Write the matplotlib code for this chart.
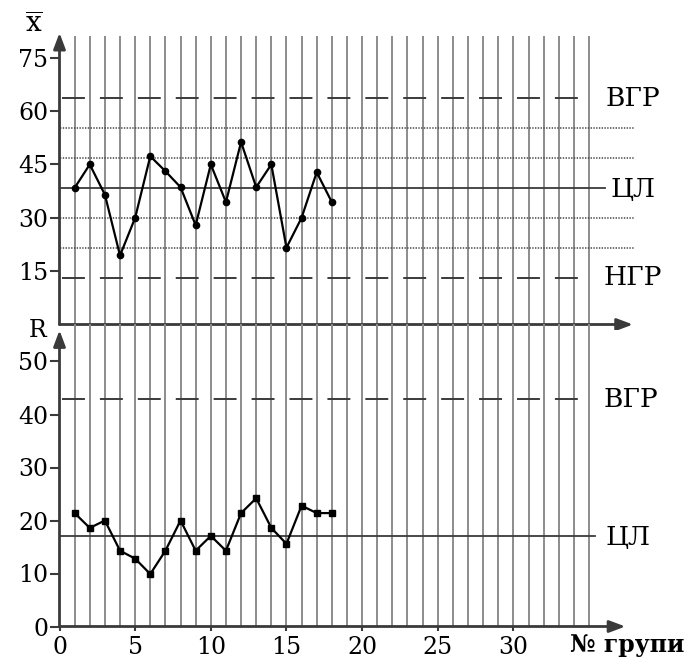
import matplotlib
matplotlib.use("Agg")
import matplotlib.pyplot as plt

# x-bar chart (group means)
groups = list(range(1, 19))
xbar_values = [38.4, 45.0, 36.5, 19.4, 30.0, 47.3, 43.1, 38.6, 27.9,
               45.0, 34.4, 51.3, 38.6, 45.0, 21.6, 30.0, 42.8, 34.4]
xbar_cl = 38.4
xbar_ucl = 63.6
xbar_lcl = 13.2
xbar_zones = [55.2, 46.8, 30.0, 21.6]
xbar_ticks = [15, 30, 45, 60, 75]

# R chart (ranges)
r_values = [21.4, 18.6, 20.0, 14.3, 12.8, 9.9, 14.3, 20.0, 14.3,
            17.1, 14.3, 21.4, 24.2, 18.6, 15.6, 22.8, 21.4, 21.4]
r_cl = 17.1
r_ucl = 42.9
r_ticks = [0, 10, 20, 30, 40, 50]

x_ticks = [0, 5, 10, 15, 20, 25, 30]
grid_x = list(range(1, 36))

plt.rcParams['font.family'] = 'DejaVu Serif'
plt.rcParams['mathtext.fontset'] = 'dejavuserif'
plt.rcParams['lines.scale_dashes'] = False

FIG_W, FIG_H = 688, 666
X0_PX = 59.5
PX_PER_X = 15.13
XMAX = 38.5

fig = plt.figure(figsize=(FIG_W / 100, FIG_H / 100), dpi=100)
left = X0_PX / FIG_W
width = XMAX * PX_PER_X / FIG_W
ax_top = fig.add_axes([left, (FIG_H - 324.5) / FIG_H, width, 82 * 3.557 / FIG_H])
ax_bot = fig.add_axes([left, (FIG_H - 626.5) / FIG_H, width, 56 * 5.3 / FIG_H])

GRID_C = '#8c8c8c'
AXIS_C = '#3a3a3a'
DASH = (0, (16.5, 10.8))
DOT = (0, (1, 1))
TICK_FS = 17
LABEL_FS = 19


def axis_arrow(ax, start, end, lw=2.0):
    ax.annotate('', xy=end, xytext=start, xycoords='data',
                arrowprops=dict(arrowstyle='-|>,head_length=0.8,head_width=0.3',
                                color=AXIS_C, lw=lw, shrinkA=0, shrinkB=0,
                                mutation_scale=12),
                annotation_clip=False, zorder=5)


for ax, ytop in [(ax_top, 81.1), (ax_bot, 57.0)]:
    ax.set_xlim(0, XMAX)
    for s in ax.spines.values():
        s.set_visible(False)
    ax.vlines(grid_x, 0, ytop, color=GRID_C, lw=1.4, zorder=1, clip_on=False)

# ---- top: x-bar chart ----
ax_top.set_ylim(0, 82)
ax_top.set_yticks(xbar_ticks)
ax_top.tick_params(axis='x', bottom=False, labelbottom=False)
ax_top.tick_params(axis='y', direction='out', length=7, width=1.5, color=AXIS_C,
                   pad=1, labelsize=TICK_FS)

for yv in [xbar_ucl, xbar_lcl]:
    ax_top.plot([0.15, 34.6], [yv, yv], color=AXIS_C, lw=1.4, linestyle=DASH, zorder=2)
for yv in xbar_zones:
    ax_top.plot([0, 38.0], [yv, yv], color='#444444', lw=1.1, linestyle=DOT,
                zorder=2, clip_on=False)
ax_top.plot([0, 36.05], [xbar_cl, xbar_cl], color=AXIS_C, lw=1.3, zorder=2)

ax_top.plot(groups, xbar_values, color='black', lw=1.6, marker='o',
            markersize=4.5, zorder=4)

axis_arrow(ax_top, (0, 0), (0, 82))
axis_arrow(ax_top, (0, 0), (37.9, 0))

ax_top.text(37.9, xbar_ucl, 'ВГР', fontsize=LABEL_FS, ha='center', va='center')
ax_top.text(37.9, xbar_cl - 0.5, 'ЦЛ', fontsize=LABEL_FS, ha='center', va='center')
ax_top.text(37.9, xbar_lcl, 'НГР', fontsize=LABEL_FS, ha='center', va='center')
ax_top.text(-1.7, 84.2, r'$\overline{\mathrm{x}}$', fontsize=20, ha='center',
            va='center', clip_on=False)

# ---- bottom: R chart ----
ax_bot.set_ylim(0, 56)
ax_bot.set_yticks(r_ticks)
ax_bot.set_xticks(x_ticks)
ax_bot.tick_params(axis='y', direction='out', length=7, width=1.5, color=AXIS_C,
                   pad=1, labelsize=TICK_FS)
ax_bot.tick_params(axis='x', direction='out', length=3, width=1.5, color=AXIS_C,
                   pad=4, labelsize=TICK_FS)

ax_bot.plot([0.15, 34.6], [r_ucl, r_ucl], color=AXIS_C, lw=1.4, linestyle=DASH, zorder=2)
ax_bot.plot([0, 35.4], [r_cl, r_cl], color=AXIS_C, lw=1.3, zorder=2)

ax_bot.plot(groups, r_values, color='black', lw=1.6, marker='s',
            markersize=5, zorder=4)

axis_arrow(ax_bot, (0, 0), (0, 55.9))
axis_arrow(ax_bot, (0, 0), (37.4, 0))

ax_bot.text(37.8, r_ucl, 'ВГР', fontsize=LABEL_FS, ha='center', va='center')
ax_bot.text(37.6, r_cl - 0.3, 'ЦЛ', fontsize=LABEL_FS, ha='center', va='center')
ax_bot.text(-1.45, 55.9, 'R', fontsize=17, ha='center', va='center', clip_on=False)
ax_bot.text(37.5, -3.5, '№ групи', fontsize=17, fontweight='bold', ha='center',
            va='center', clip_on=False)

fig.savefig('out.png', dpi=100)
plt.close(fig)
